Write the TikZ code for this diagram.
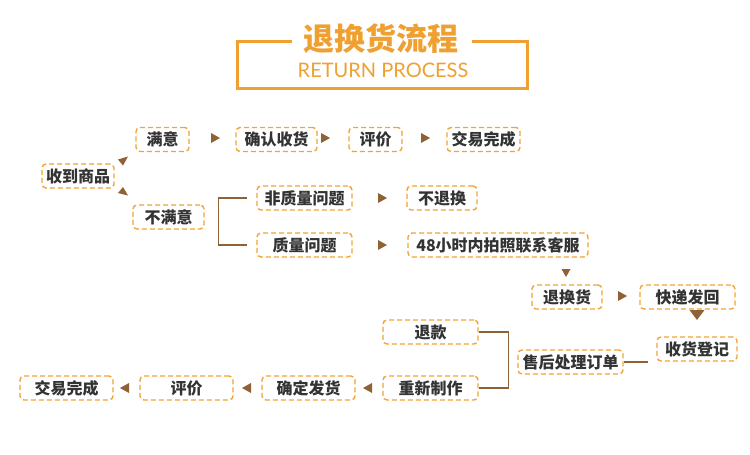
\documentclass[tikz,border=0pt]{standalone}
\usepackage{fontspec}
\newfontfamily\cjk{Noto Sans CJK SC}
\newfontfamily\latin{Lato}
\definecolor{boxor}{HTML}{F4A233}
\definecolor{titor}{HTML}{F0A030}
\definecolor{brn}{HTML}{8F6136}
\definecolor{txt}{HTML}{333333}
\begin{document}
\begin{tikzpicture}[x=1pt,y=-1pt,
  box/.style={draw=boxor, dash pattern=on 5pt off 3pt, line width=1.4pt,
    rounded corners=4pt, minimum height=24pt, inner sep=0pt,
    font=\cjk\bfseries\fontsize{16}{16}\selectfont, text=txt},
  brk/.style={draw=brn, line width=1.5pt},
  hdr/.style={draw=titor, line width=3pt},
  rarr/.pic={\fill[brn] (-4,-5) -- (5,0) -- (-4,5) -- cycle;},
  larr/.pic={\fill[brn] (4,-5) -- (-5,0) -- (4,5) -- cycle;},
  darr/.pic={\fill[brn] (-4.5,-4) -- (4.5,-4) -- (0,4) -- cycle;},
  bigdarr/.pic={\fill[brn] (-7.5,-5) -- (7.5,-5) -- (0,5) -- cycle;}]
\useasboundingbox (0,0) rectangle (750,455);
\fill[white] (0,0) rectangle (750,455);

% header
\node[font=\cjk\bfseries\fontsize{31}{31}\selectfont, text=titor] (title) at (381,39) {退换货流程};
\node[font=\latin\fontsize{20}{20}\selectfont, text=titor] (sub) at (383,70) {RETURN PROCESS};
\draw[hdr] (292,41) -- (237,41) -- (237,88) -- (527,88) -- (527,41) -- (472,41);

% top part
\node[box, minimum width=72pt] (sd) at (78,176) {收到商品};
\node[box, minimum width=53pt] (my) at (162.5,139.5) {满意};
\node[box, minimum width=71pt] (bmy) at (168.5,217) {不满意};
\node[box, minimum width=81pt] (qr) at (276.5,139.5) {确认收货};
\node[box, minimum width=53pt] (pj1) at (375.5,139.5) {评价};
\node[box, minimum width=73pt] (wc1) at (483.5,139.5) {交易完成};
\node[box, minimum width=95pt] (nq) at (304.5,198) {非质量问题};
\node[box, minimum width=95pt] (q) at (304.5,245) {质量问题};
\node[box, minimum width=70pt] (bth) at (442,198) {不退换};
\node[box, minimum width=180pt] (kf) at (498,245) {48小时内拍照联系客服};

% triangles near 收到商品
\fill[brn] (118,159.5) -- (123,165.5) -- (128,156.5) -- cycle;
\fill[brn] (123,187) -- (118,193) -- (128,195.5) -- cycle;

\pic at (215,138) {rarr};
\pic at (325,138) {rarr};
\pic at (425,138) {rarr};
\pic at (382,198) {rarr};
\pic at (382,245) {rarr};

\draw[brk] ([xshift=-9pt]nq.west) -- ++(-29,0) |- ([xshift=-9pt]q.west);

% right part
\pic at (566,273) {darr};
\node[box, minimum width=70pt] (thh) at (567,297) {退换货};
\pic at (622,296) {rarr};
\node[box, minimum width=95pt] (kd) at (687.5,297) {快递发回};
\pic at (697,315) {bigdarr};
\node[box, minimum width=80pt] (sh) at (697,349) {收货登记};
\node[box, minimum width=105pt] (sd2) at (570.5,362) {售后处理订单};
\draw[brk] (sd2.east) -- ++(24,0);

% bottom part
\node[box, minimum width=95pt] (tk) at (430.5,332) {退款};
\node[box, minimum width=95pt] (cx) at (430.5,388) {重新制作};
\draw[brk] (tk.east) -- ++(30,0) |- (cx.east);
\node[box, minimum width=93pt] (qd) at (308.5,388) {确定发货};
\node[box, minimum width=93pt] (pj2) at (186.5,388) {评价};
\node[box, minimum width=93pt] (wc2) at (66.5,388) {交易完成};
\pic at (368,388) {larr};
\pic at (247,388) {larr};
\pic at (125,388) {larr};
\end{tikzpicture}
\end{document}
